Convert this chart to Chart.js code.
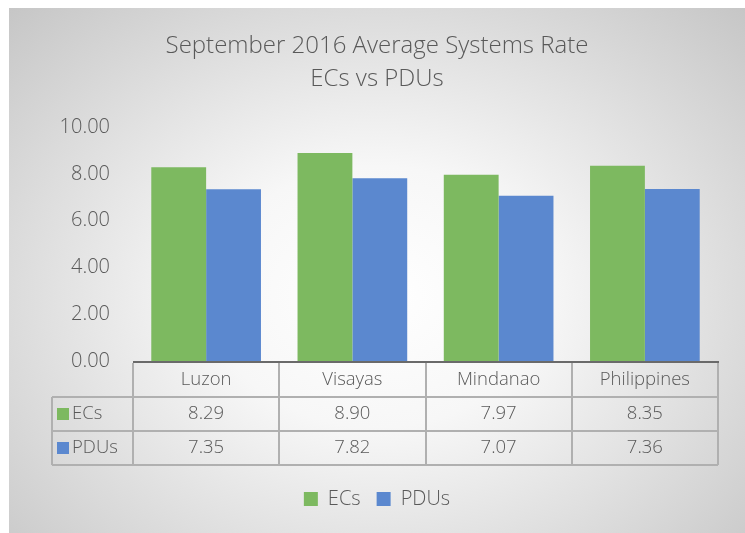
<!DOCTYPE html>
<html>
<head>
<meta charset="utf-8">
<script src="https://cdn.jsdelivr.net/npm/chart.js@4/dist/chart.umd.min.js"></script>
<style>
  html, body { margin: 0; padding: 0; background: #ffffff; }
  #wrap {
    position: absolute; left: 9px; top: 8px; width: 736px; height: 525px;
    background: radial-gradient(farthest-corner at 50% 55%, #ffffff 0%, #f7f7f7 32%, #c6c6c6 100%);
  }
  canvas { position: absolute; left: 0; top: 0; }
</style>
</head>
<body>
<div id="wrap"><canvas id="c" width="736" height="525"></canvas></div>
<script>
const categories = ['Luzon', 'Visayas', 'Mindanao', 'Philippines'];
const seriesNames = ['ECs', 'PDUs'];
const ecsValues = [8.29, 8.90, 7.97, 8.35];
const pdusValues = [7.35, 7.82, 7.07, 7.36];
const titleLines = ['September 2016 Average Systems Rate', 'ECs vs PDUs'];
const yMin = 0, yMax = 10, yStep = 2;

const GREEN = '#7db960';
const BLUE = '#5b88cf';
const TXT = '#595959';
const FONT = "'Open Sans', 'Liberation Sans', sans-serif";

const tablePlugin = {
  id: 'dataTable',
  afterDraw(chart) {
    const ctx = chart.ctx;
    const x = chart.scales.x;
    const area = chart.chartArea;
    const n = categories.length;
    const colW = (area.right - area.left) / n;
    const top = area.bottom + 2;
    const rowH = 34;
    const leftX = area.left - 81;
    const colors = [GREEN, BLUE];
    const rows = [ecsValues, pdusValues];
    ctx.save();
    ctx.lineWidth = 2;
    ctx.strokeStyle = '#b0b0b0';
    for (let i = 0; i <= n; i++) {
      const px = Math.round(area.left + i * colW);
      ctx.beginPath();
      ctx.moveTo(px, top);
      ctx.lineTo(px, top + rowH * 3);
      ctx.stroke();
    }
    ctx.beginPath();
    ctx.moveTo(leftX, top + rowH);
    ctx.lineTo(leftX, top + rowH * 3);
    ctx.stroke();
    for (let r = 1; r <= 3; r++) {
      ctx.beginPath();
      ctx.moveTo(leftX, top + rowH * r);
      ctx.lineTo(area.right, top + rowH * r);
      ctx.stroke();
    }
    ctx.strokeStyle = '#6a6a6a';
    ctx.lineWidth = 2;
    ctx.beginPath();
    ctx.moveTo(area.left, area.bottom + 1);
    ctx.lineTo(area.right + 1, area.bottom + 1);
    ctx.stroke();

    ctx.fillStyle = TXT;
    ctx.font = "300 18.5px " + FONT;
    ctx.textAlign = 'center';
    ctx.textBaseline = 'middle';
    for (let i = 0; i < n; i++) {
      const cx = x.getPixelForValue(i);
      ctx.fillText(categories[i], cx, top + rowH / 2);
      for (let r = 0; r < rows.length; r++) {
        ctx.fillText(rows[r][i].toFixed(2), cx, top + rowH * (r + 1) + rowH / 2);
      }
    }
    ctx.textAlign = 'left';
    for (let r = 0; r < rows.length; r++) {
      const cy = top + rowH * (r + 1) + rowH / 2;
      ctx.fillStyle = colors[r];
      ctx.fillRect(leftX + 5, cy - 6, 12, 12);
      ctx.fillStyle = TXT;
      ctx.fillText(seriesNames[r], leftX + 20, cy);
    }
    ctx.restore();
  }
};

new Chart(document.getElementById('c'), {
  type: 'bar',
  data: {
    labels: categories,
    datasets: [
      { label: seriesNames[0], data: ecsValues, backgroundColor: GREEN, borderWidth: 0 },
      { label: seriesNames[1], data: pdusValues, backgroundColor: BLUE, borderWidth: 0 }
    ]
  },
  options: {
    responsive: false,
    animation: false,
    layout: { padding: { top: 4, right: 27, bottom: 14, left: 27 } },
    datasets: { bar: { categoryPercentage: 0.75, barPercentage: 1.0 } },
    plugins: {
      title: {
        display: true,
        text: titleLines,
        color: TXT,
        font: { family: FONT, size: 24, weight: '300', lineHeight: 1.4 },
        padding: { top: 17, bottom: 31 }
      },
      legend: {
        position: 'bottom',
        labels: {
          color: TXT,
          font: { family: FONT, size: 20, weight: '300' },
          boxWidth: 14, boxHeight: 14,
          padding: 16
        }
      },
      tooltip: { enabled: false }
    },
    scales: {
      x: {
        grid: { display: false, drawTicks: false },
        border: { display: false },
        ticks: { display: false },
        afterFit(s) { s.height = 112; }
      },
      y: {
        min: yMin, max: yMax,
        grid: { display: false, drawTicks: false },
        border: { display: false },
        ticks: {
          stepSize: yStep,
          color: TXT,
          font: { family: FONT, size: 20, weight: '300' },
          padding: 23,
          callback: v => Number(v).toFixed(2)
        },
        afterFit(s) { s.width = 97; }
      }
    }
  },
  plugins: [tablePlugin]
});
</script>
</body>
</html>
